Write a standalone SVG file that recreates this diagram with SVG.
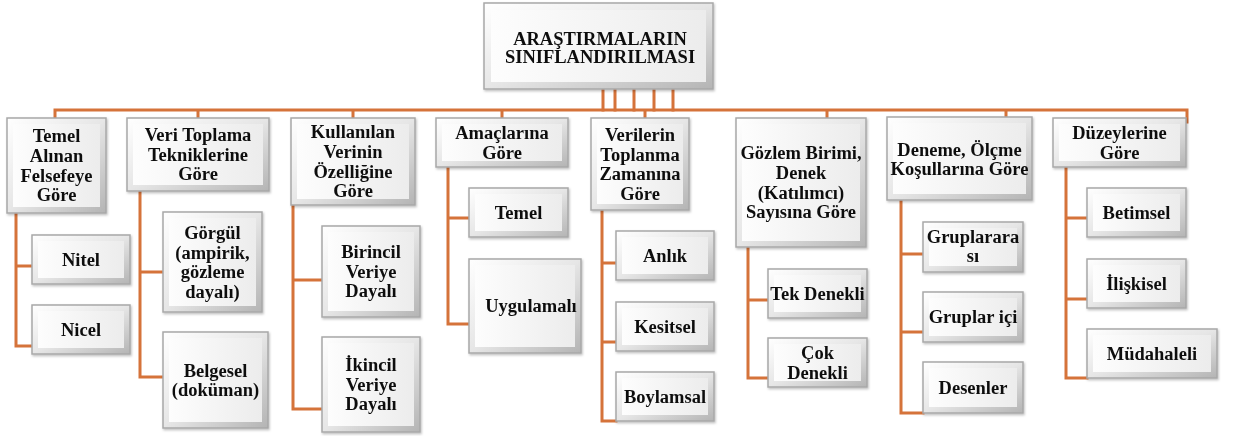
<svg xmlns="http://www.w3.org/2000/svg" width="1238" height="436" viewBox="0 0 1238 436">
<style>
.c{stroke:#d5733a;stroke-width:3;fill:none;stroke-linecap:square}
.o{fill:url(#gO);stroke:#a8a8a8;stroke-width:1.5}
.i{fill:url(#gI)}
text{font-family:"Liberation Serif","Times New Roman",serif;font-weight:bold;font-size:18.5px;text-anchor:middle;fill:#111}
.n{filter:url(#sh)}
</style>
<defs>
<linearGradient id="gO" x1="0" y1="0" x2="1" y2="1">
<stop offset="0" stop-color="#ffffff"/><stop offset="0.5" stop-color="#e6e6e6"/><stop offset="1" stop-color="#b4b4b4"/>
</linearGradient>
<linearGradient id="gI" x1="0" y1="0" x2="1" y2="0">
<stop offset="0" stop-color="#fdfdfd"/><stop offset="1" stop-color="#ececec"/>
</linearGradient>
<filter id="sh" x="-10%" y="-10%" width="120%" height="130%">
<feDropShadow dx="1" dy="1.5" stdDeviation="1" flood-color="#000" flood-opacity="0.25"/>
</filter>
</defs>
<g id="connectors">
<path class="c" d="M603 89V110M615 89V110M634 89V110M654 89V110M673 89V110"/>
<path class="c" d="M55 110H1187V122M55 110V118M198 110V118M353 110V118M502 110V118M645 110V118M827 110V118M1006 110V117"/>
<path class="c" d="M16 213V346H32M16 266H32"/>
<path class="c" d="M140 191V377H163M140 272H163"/>
<path class="c" d="M293 205V409H322M293 280H322"/>
<path class="c" d="M448 167V324H469M448 218H469"/>
<path class="c" d="M602 210V421H616M602 263H616M602 342H616"/>
<path class="c" d="M748 247V378H768M748 300H768"/>
<path class="c" d="M901 200V413H923M901 254H923M901 332H923"/>
<path class="c" d="M1066 167V378H1087M1066 218H1087M1066 299H1087"/>
</g>
<g id="root" class="n"><rect class="o" x="484" y="3" width="229" height="86"/><rect class="i" x="491" y="10" width="215" height="72"/><text x="600"><tspan x="600" y="45">ARAŞTIRMALARIN</tspan><tspan x="600" y="63.3">SINIFLANDIRILMASI</tspan></text></g>
<g id="felsefe" class="n"><rect class="o" x="7" y="118" width="99" height="95"/><rect class="i" x="13" y="124" width="87" height="83"/><text><tspan x="56.5" y="142.4">Temel</tspan><tspan x="56.5" y="162">Alınan</tspan><tspan x="56.5" y="181.6">Felsefeye</tspan><tspan x="56.5" y="201.2">Göre</tspan></text></g>
<g id="nitel" class="n"><rect class="o" x="32" y="235" width="98" height="49"/><rect class="i" x="38" y="241" width="86" height="37"/><text x="81" y="265.5">Nitel</text></g>
<g id="nicel" class="n"><rect class="o" x="32" y="305" width="98" height="49"/><rect class="i" x="38" y="311" width="86" height="37"/><text x="81" y="335.5">Nicel</text></g>
<g id="veritoplama" class="n"><rect class="o" x="127" y="118" width="142" height="73"/><rect class="i" x="133" y="124" width="130" height="61"/><text><tspan x="198" y="141.2">Veri Toplama</tspan><tspan x="198" y="160.8">Tekniklerine</tspan><tspan x="198" y="180.4">Göre</tspan></text></g>
<g id="gorgul" class="n"><rect class="o" x="163" y="212" width="99" height="100"/><rect class="i" x="169" y="218" width="87" height="88"/><text><tspan x="212.5" y="238.9">Görgül</tspan><tspan x="212.5" y="258.5">(ampirik,</tspan><tspan x="212.5" y="278.1">gözleme</tspan><tspan x="212.5" y="297.7">dayalı)</tspan></text></g>
<g id="belgesel" class="n"><rect class="o" x="163" y="332" width="105" height="96"/><rect class="i" x="169" y="338" width="93" height="84"/><text><tspan x="215.5" y="376.5">Belgesel</tspan><tspan x="215.5" y="396.1">(doküman)</tspan></text></g>
<g id="verinin" class="n"><rect class="o" x="291" y="118" width="124" height="87"/><rect class="i" x="297" y="124" width="112" height="75"/><text><tspan x="353" y="138.4">Kullanılan</tspan><tspan x="353" y="158">Verinin</tspan><tspan x="353" y="177.6">Özelliğine</tspan><tspan x="353" y="197.2">Göre</tspan></text></g>
<g id="birincil" class="n"><rect class="o" x="322" y="226" width="98" height="91"/><rect class="i" x="328" y="232" width="86" height="79"/><text><tspan x="371" y="258.2">Birincil</tspan><tspan x="371" y="277.8">Veriye</tspan><tspan x="371" y="297.4">Dayalı</tspan></text></g>
<g id="ikincil" class="n"><rect class="o" x="322" y="337" width="98" height="95"/><rect class="i" x="328" y="343" width="86" height="83"/><text><tspan x="371" y="371.2">İkincil</tspan><tspan x="371" y="390.8">Veriye</tspan><tspan x="371" y="410.4">Dayalı</tspan></text></g>
<g id="amac" class="n"><rect class="o" x="436" y="118" width="132" height="49"/><rect class="i" x="442" y="124" width="120" height="37"/><text><tspan x="502" y="139">Amaçlarına</tspan><tspan x="502" y="158.6">Göre</tspan></text></g>
<g id="temel" class="n"><rect class="o" x="469" y="188" width="99" height="49"/><rect class="i" x="475" y="194" width="87" height="37"/><text x="518.5" y="218.5">Temel</text></g>
<g id="uygulamali" class="n"><rect class="o" x="469" y="259" width="112" height="94"/><rect class="i" x="475" y="265" width="100" height="82"/><text x="531" y="312">Uygulamalı</text></g>
<g id="zaman" class="n"><rect class="o" x="591" y="118" width="98" height="92"/><rect class="i" x="597" y="124" width="86" height="80"/><text><tspan x="640" y="140.9">Verilerin</tspan><tspan x="640" y="160.5">Toplanma</tspan><tspan x="640" y="180.1">Zamanına</tspan><tspan x="640" y="199.7">Göre</tspan></text></g>
<g id="anlik" class="n"><rect class="o" x="616" y="231" width="98" height="49"/><rect class="i" x="622" y="237" width="86" height="37"/><text x="665" y="261.5">Anlık</text></g>
<g id="kesitsel" class="n"><rect class="o" x="616" y="302" width="98" height="49"/><rect class="i" x="622" y="308" width="86" height="37"/><text x="665" y="332.5">Kesitsel</text></g>
<g id="boylamsal" class="n"><rect class="o" x="616" y="372" width="98" height="49"/><rect class="i" x="622" y="378" width="86" height="37"/><text x="665" y="402.5">Boylamsal</text></g>
<g id="gozlem" class="n"><rect class="o" x="736" y="118" width="130" height="129"/><rect class="i" x="742" y="124" width="118" height="117"/><text><tspan x="801" y="159.4">Gözlem Birimi,</tspan><tspan x="801" y="179">Denek</tspan><tspan x="801" y="198.6">(Katılımcı)</tspan><tspan x="801" y="218.2">Sayısına Göre</tspan></text></g>
<g id="tek" class="n"><rect class="o" x="768" y="269" width="99" height="49"/><rect class="i" x="774" y="275" width="87" height="37"/><text x="817.5" y="299.5">Tek Denekli</text></g>
<g id="cok" class="n"><rect class="o" x="768" y="338" width="99" height="49"/><rect class="i" x="774" y="344" width="87" height="37"/><text><tspan x="817.5" y="359">Çok</tspan><tspan x="817.5" y="378.6">Denekli</tspan></text></g>
<g id="deneme" class="n"><rect class="o" x="887" y="117" width="145" height="83"/><rect class="i" x="893" y="123" width="133" height="71"/><text><tspan x="959.5" y="156">Deneme, Ölçme</tspan><tspan x="959.5" y="175">Koşullarına Göre</tspan></text></g>
<g id="gruplararasi" class="n"><rect class="o" x="923" y="222" width="100" height="50"/><rect class="i" x="929" y="228" width="88" height="38"/><text><tspan x="973" y="243">Gruplarara</tspan><tspan x="973" y="262">sı</tspan></text></g>
<g id="gruplarici" class="n"><rect class="o" x="923" y="292" width="100" height="50"/><rect class="i" x="929" y="298" width="88" height="38"/><text x="973" y="323">Gruplar içi</text></g>
<g id="desenler" class="n"><rect class="o" x="923" y="362" width="100" height="51"/><rect class="i" x="929" y="368" width="88" height="39"/><text x="973" y="393.5">Desenler</text></g>
<g id="duzey" class="n"><rect class="o" x="1053" y="118" width="133" height="49"/><rect class="i" x="1059" y="124" width="121" height="37"/><text><tspan x="1119.5" y="139">Düzeylerine</tspan><tspan x="1119.5" y="158.6">Göre</tspan></text></g>
<g id="betimsel" class="n"><rect class="o" x="1087" y="188" width="99" height="49"/><rect class="i" x="1093" y="194" width="87" height="37"/><text x="1136.5" y="218.5">Betimsel</text></g>
<g id="iliskisel" class="n"><rect class="o" x="1087" y="259" width="99" height="49"/><rect class="i" x="1093" y="265" width="87" height="37"/><text x="1136.5" y="289.5">İlişkisel</text></g>
<g id="mudahaleli" class="n"><rect class="o" x="1087" y="329" width="130" height="49"/><rect class="i" x="1093" y="335" width="118" height="37"/><text x="1152" y="359.5">Müdahaleli</text></g>
</svg>
